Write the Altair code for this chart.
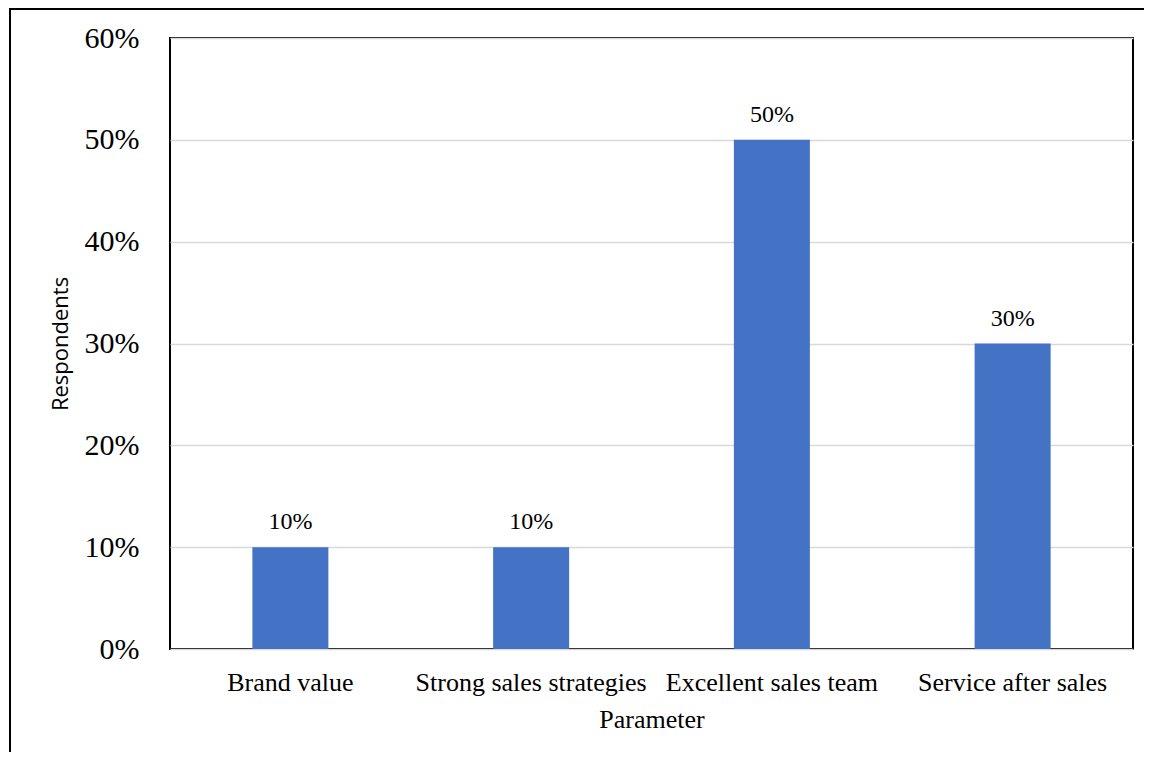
import altair as alt
import pandas as pd

categories = ["Brand value", "Strong sales strategies", "Excellent sales team", "Service after sales"]
values = [0.10, 0.10, 0.50, 0.30]
y_ticks = [0.0, 0.1, 0.2, 0.3, 0.4, 0.5, 0.6]

df = pd.DataFrame({"Parameter": categories, "Respondents": values})

SERIF = "Liberation Serif"

x_enc = alt.X(
    "Parameter:N",
    sort=categories,
    scale=alt.Scale(paddingInner=0, paddingOuter=0),
    axis=alt.Axis(
        labelAngle=0, ticks=False, domain=False, labelLimit=0,
        labelFont=SERIF, labelFontSize=26, labelColor="black", labelPadding=20,
        title="Parameter", titleFont=SERIF, titleFontSize=26, titleFontWeight="normal",
        titleColor="black", titleY=78, titleBaseline="alphabetic",
    ),
)
y_enc = alt.Y(
    "Respondents:Q",
    scale=alt.Scale(domain=[0, 0.6], nice=False),
    axis=alt.Axis(
        values=y_ticks, format=".0%", ticks=False, domain=False,
        labelFont=SERIF, labelFontSize=30, labelColor="black", labelPadding=31,
        grid=True, gridColor="#d9d9d9", gridWidth=1.5,
        title="Respondents", titleFont="Open Sans", titleFontSize=22,
        titleFontWeight="normal", titleColor="black",
        titleX=-110, titleY=305.5, titleAngle=270, titleAlign="center", titleBaseline="middle",
    ),
)

base = alt.Chart(df)

border = alt.Chart(pd.DataFrame({"a": [0]})).mark_rect(
    filled=False, stroke="black", strokeWidth=2
).encode(
    x=alt.value(-160), x2=alt.value(1000), y=alt.value(-29), y2=alt.value(760)
)

bars = base.mark_bar(size=76, color="#4472C4").encode(x=x_enc, y=y_enc)

labels = base.mark_text(
    baseline="alphabetic", dy=-18, font=SERIF, fontSize=24, color="black"
).encode(
    x=alt.X("Parameter:N", sort=categories),
    y=alt.Y("Respondents:Q"),
    text=alt.Text("Respondents:Q", format=".0%"),
)

chart = alt.layer(border, bars, labels).properties(
    width=963,
    height=611,
    autosize=alt.AutoSizeParams(type="none"),
    padding={"left": 162, "top": 30, "right": 11, "bottom": 103},
).configure_view(stroke="black", strokeWidth=2)

chart.save("out.html", embed_options={"renderer": "svg", "actions": False})
